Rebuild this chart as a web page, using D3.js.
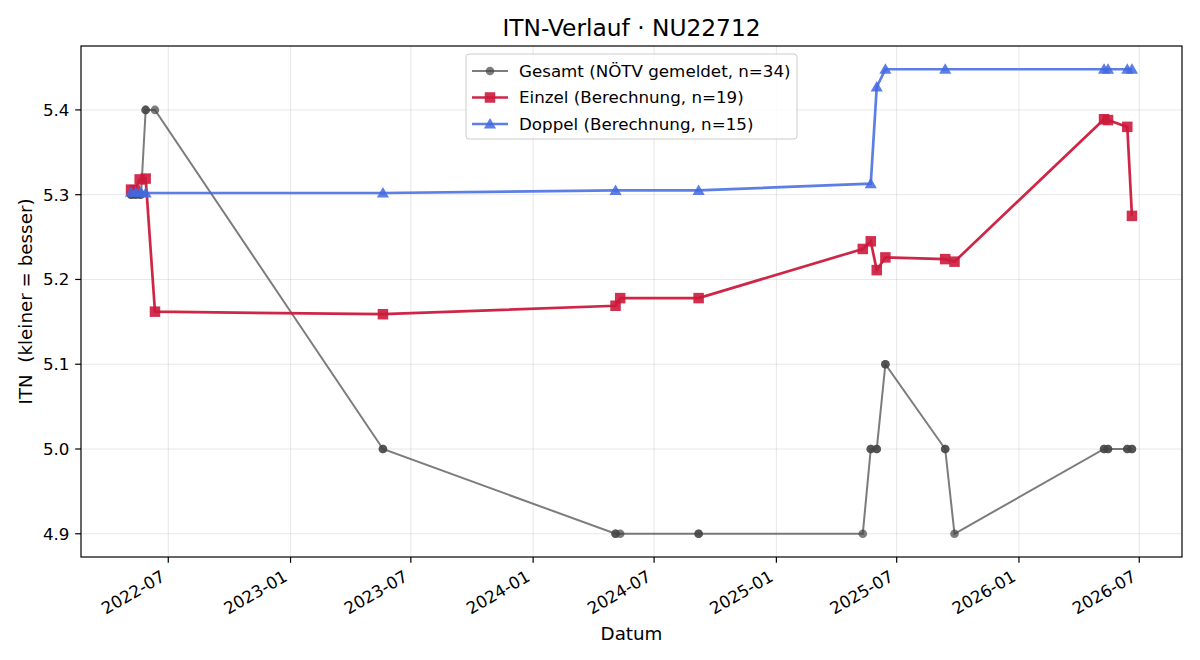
<!DOCTYPE html>
<html><head><meta charset="utf-8">
<script src="https://cdn.jsdelivr.net/npm/d3@7"></script>
<style>body{margin:0;background:#fff;font-family:"DejaVu Sans",sans-serif}</style>
</head><body><svg id="c" width="1200" height="660"></svg>
<script>
const einzelDates = ["2022-05-06","2022-05-12","2022-05-19","2022-05-28","2022-06-11","2023-05-20","2024-05-04","2024-05-11","2024-09-06","2025-05-11","2025-05-23","2025-06-01","2025-06-14","2025-09-12","2025-09-26","2026-05-09","2026-05-15","2026-06-13","2026-06-20"];
const einzelValues = [5.306,5.305,5.318,5.319,5.162,5.159,5.169,5.178,5.178,5.236,5.245,5.211,5.226,5.224,5.221,5.389,5.388,5.380,5.275];
const doppelDates = ["2022-05-06","2022-05-13","2022-05-21","2022-05-28","2023-05-20","2024-05-04","2024-09-06","2025-05-23","2025-06-01","2025-06-14","2025-09-12","2026-05-09","2026-05-15","2026-06-13","2026-06-20"];
const doppelValues = [5.303,5.303,5.303,5.302,5.302,5.305,5.305,5.313,5.427,5.448,5.448,5.448,5.448,5.448,5.448];
const gesamtDates = ["2022-05-06","2022-05-06","2022-05-12","2022-05-13","2022-05-19","2022-05-21","2022-05-28","2022-05-28","2022-06-11","2023-05-20","2023-05-20","2024-05-04","2024-05-04","2024-05-11","2024-09-06","2024-09-06","2025-05-11","2025-05-23","2025-05-23","2025-06-01","2025-06-01","2025-06-14","2025-06-14","2025-09-12","2025-09-12","2025-09-26","2026-05-09","2026-05-09","2026-05-15","2026-05-15","2026-06-13","2026-06-13","2026-06-20","2026-06-20"];
const gesamtValues = [5.3,5.3,5.3,5.3,5.3,5.3,5.4,5.4,5.4,5.0,5.0,4.9,4.9,4.9,4.9,4.9,4.9,5.0,5.0,5.0,5.0,5.1,5.1,5.0,5.0,4.9,5.0,5.0,5.0,5.0,5.0,5.0,5.0,5.0];
const yTicks = [4.9,5.0,5.1,5.2,5.3,5.4];
const xTickLabels = ["2022-07","2023-01","2023-07","2024-01","2024-07","2025-01","2025-07","2026-01","2026-07"];
const titleText = "ITN-Verlauf · NU22712";
const legendLabels = ["Gesamt (NÖTV gemeldet, n=34)","Einzel (Berechnung, n=19)","Doppel (Berechnung, n=15)"];

const parse = d3.utcParse("%Y-%m-%d"), parseM = d3.utcParse("%Y-%m");
const mk = (ds, vs) => ds.map((d,i)=>({d:parse(d), v:vs[i]}));
const gesamt = mk(gesamtDates,gesamtValues), einzel = mk(einzelDates,einzelValues), doppel = mk(doppelDates,doppelValues);

const L=81,R=1182,T=46,B=557;
const all = gesamt.concat(einzel,doppel);
const xmin = d3.min(all,d=>+d.d), xmax = d3.max(all,d=>+d.d), xp=(xmax-xmin)*0.05;
const ymin = d3.min(all,d=>d.v), ymax = d3.max(all,d=>d.v), yp=(ymax-ymin)*0.05;
const x = d3.scaleUtc().domain([new Date(xmin-xp), new Date(xmax+xp)]).range([L,R]);
const y = d3.scaleLinear().domain([ymin-yp, ymax+yp]).range([B,T]);

const svg = d3.select("#c");
const g = svg.append("g");
const xTickDates = xTickLabels.map(parseM);
const TF=16.7, LF=18.3;
// grid
g.selectAll(".gx").data(xTickDates).join("line").attr("x1",d=>x(d)).attr("x2",d=>x(d)).attr("y1",T).attr("y2",B).attr("stroke","#b0b0b0").attr("stroke-opacity",0.3).attr("stroke-width",1);
g.selectAll(".gy").data(yTicks).join("line").attr("y1",d=>y(d)).attr("y2",d=>y(d)).attr("x1",L).attr("x2",R).attr("stroke","#b0b0b0").attr("stroke-opacity",0.3).attr("stroke-width",1);

svg.append("clipPath").attr("id","pc").append("rect").attr("x",L).attr("y",T).attr("width",R-L).attr("height",B-T);
const plot = svg.append("g").attr("clip-path","url(#pc)");
const line = d3.line().x(d=>x(d.d)).y(d=>y(d.v));

// Gesamt
plot.append("path").datum(gesamt).attr("d",line).attr("fill","none").attr("stroke","#444").attr("stroke-opacity",0.7).attr("stroke-width",2);
plot.selectAll(".gc").data(gesamt).join("circle").attr("cx",d=>x(d.d)).attr("cy",d=>y(d.v)).attr("r",4.3).attr("fill","#444").attr("fill-opacity",0.7);
// Einzel
const red="#cc1a3c";
plot.append("path").datum(einzel).attr("d",line).attr("fill","none").attr("stroke",red).attr("stroke-opacity",0.95).attr("stroke-width",2.7);
const sq=10.5;
plot.selectAll(".es").data(einzel).join("rect").attr("x",d=>x(d.d)-sq/2).attr("y",d=>y(d.v)-sq/2).attr("width",sq).attr("height",sq).attr("fill",red).attr("fill-opacity",0.9);
// Doppel
const blue="#4169e1";
plot.append("path").datum(doppel).attr("d",line).attr("fill","none").attr("stroke",blue).attr("stroke-opacity",0.85).attr("stroke-width",2.7);
const tri = d3.symbol().type(d3.symbolTriangle).size(64);
plot.selectAll(".dt").data(doppel).join("path").attr("d",tri).attr("transform",d=>`translate(${x(d.d)},${y(d.v)+1})`).attr("fill",blue).attr("fill-opacity",0.85);

// axes frame
svg.append("rect").attr("x",L).attr("y",T).attr("width",R-L).attr("height",B-T).attr("fill","none").attr("stroke","#000").attr("stroke-width",1.2);
// y ticks
yTicks.forEach(t=>{
  svg.append("line").attr("x1",L-5.8).attr("x2",L).attr("y1",y(t)).attr("y2",y(t)).attr("stroke","#000").attr("stroke-width",1.2);
  svg.append("text").attr("x",L-11.5).attr("y",y(t)).attr("dy","0.35em").attr("text-anchor","end").attr("font-size",TF).text(t.toFixed(1));
});
// x ticks
xTickDates.forEach((t,i)=>{
  svg.append("line").attr("x1",x(t)).attr("x2",x(t)).attr("y1",B).attr("y2",B+5.8).attr("stroke","#000").attr("stroke-width",1.2);
  svg.append("text").attr("transform",`translate(${x(t)-2},${B+23}) rotate(-30)`).attr("text-anchor","end").attr("font-size",TF).text(xTickLabels[i]);
});
svg.append("text").attr("x",(L+R)/2).attr("y",640).attr("text-anchor","middle").attr("font-size",LF).text("Datum");
svg.append("text").attr("transform",`translate(32,${(T+B)/2}) rotate(-90)`).attr("text-anchor","middle").attr("font-size",LF).style("white-space","pre").text("ITN  (kleiner = besser)");
svg.append("text").attr("x",(L+R)/2).attr("y",36).attr("text-anchor","middle").attr("font-size",23.3).text(titleText);

// legend
const lg = svg.append("g");
lg.append("rect").attr("x",466).attr("y",54).attr("width",331).attr("height",85).attr("rx",3).attr("fill","#fff").attr("fill-opacity",0.8).attr("stroke","#ccc");
const rows=[71,97.5,124];
rows.forEach((yy,i)=>{
  if(i===0){
    lg.append("line").attr("x1",472).attr("x2",508).attr("y1",yy).attr("y2",yy).attr("stroke","#444").attr("stroke-opacity",0.7).attr("stroke-width",2);
    lg.append("circle").attr("cx",490).attr("cy",yy).attr("r",4.3).attr("fill","#444").attr("fill-opacity",0.7);
  } else if(i===1){
    lg.append("line").attr("x1",472).attr("x2",508).attr("y1",yy).attr("y2",yy).attr("stroke",red).attr("stroke-opacity",0.95).attr("stroke-width",2.7);
    lg.append("rect").attr("x",490-sq/2).attr("y",yy-sq/2).attr("width",sq).attr("height",sq).attr("fill",red).attr("fill-opacity",0.9);
  } else {
    lg.append("line").attr("x1",472).attr("x2",508).attr("y1",yy).attr("y2",yy).attr("stroke",blue).attr("stroke-opacity",0.85).attr("stroke-width",2.7);
    lg.append("path").attr("d",tri).attr("transform",`translate(490,${yy+1})`).attr("fill",blue).attr("fill-opacity",0.85);
  }
  lg.append("text").attr("x",519).attr("y",yy).attr("dy","0.35em").attr("font-size",TF).text(legendLabels[i]);
});
</script></body></html>
